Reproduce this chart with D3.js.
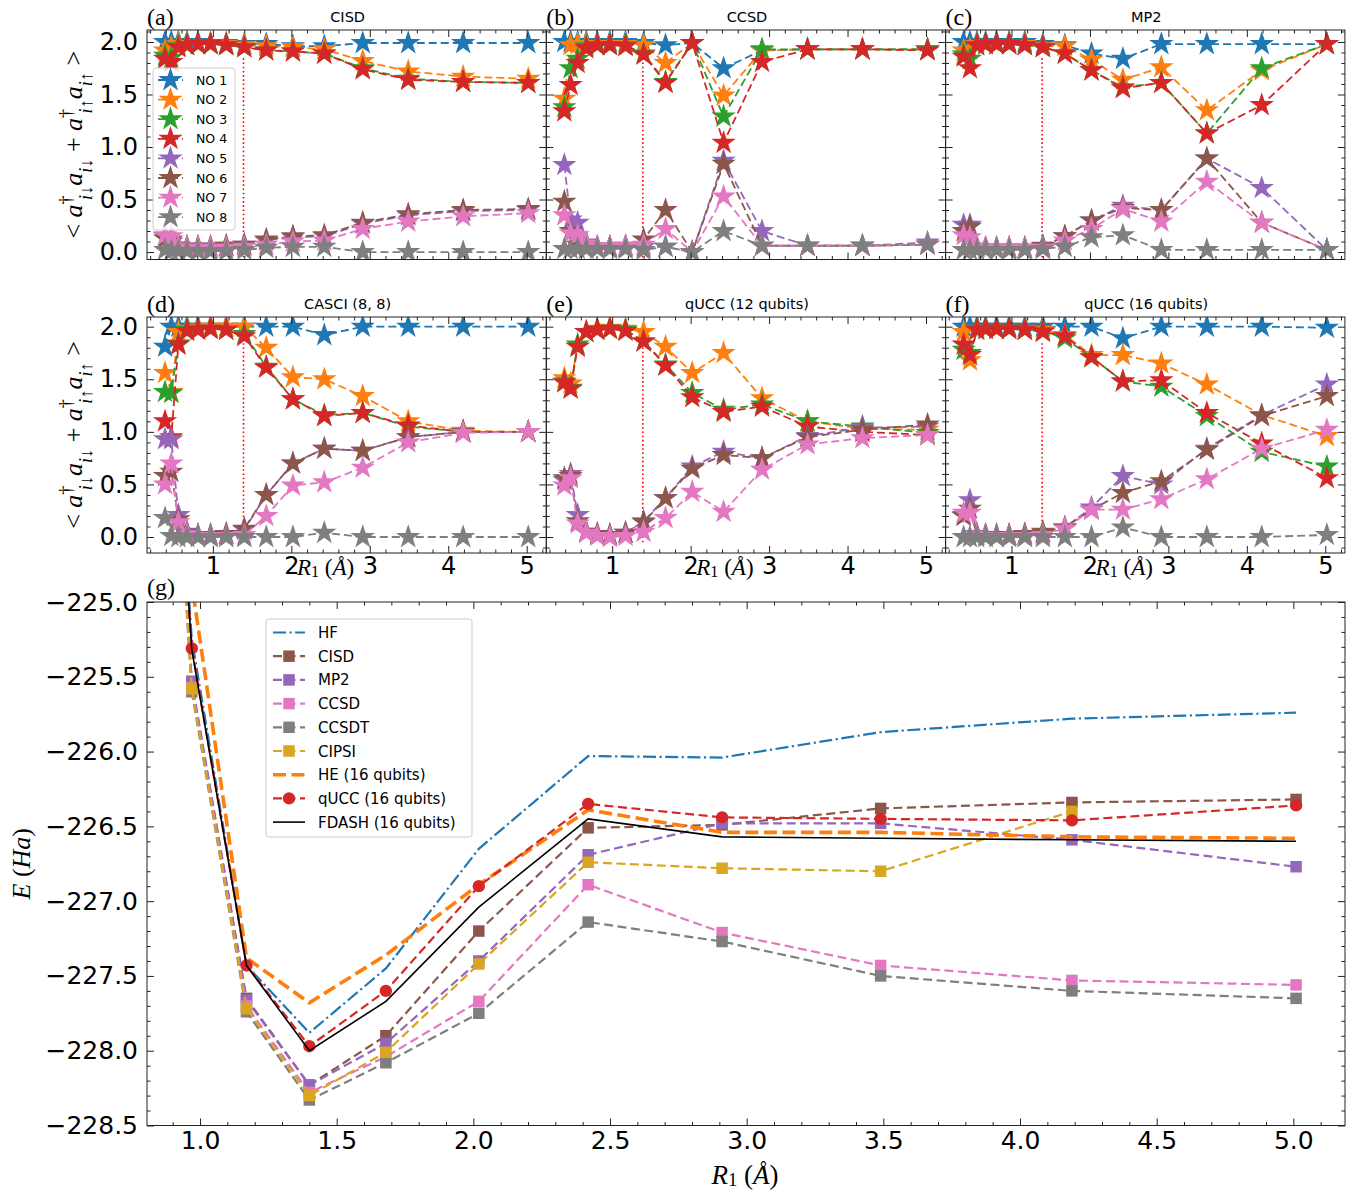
<!DOCTYPE html>
<html><head><meta charset="utf-8">
<script src="https://cdn.jsdelivr.net/npm/d3@7"></script>
<style>body{margin:0;background:#fff}</style>
</head><body><svg id="c" width="1366" height="1197" xmlns="http://www.w3.org/2000/svg"></svg>
<script>
// ---------- DATA ----------
const R_NO = [0.39,0.47,0.56,0.67,0.81,0.97,1.17,1.40,1.68,2.02,2.42,2.91,3.49,4.19,5.02];
const noNames = ["NO 1","NO 2","NO 3","NO 4","NO 5","NO 6","NO 7","NO 8"];
const noColors = ["#1f77b4","#ff7f0e","#2ca02c","#d62728","#9467bd","#8c564b","#e377c2","#7f7f7f"];
const panelTitles = ["CISD","CCSD","MP2","CASCI (8, 8)","qUCC (12 qubits)","qUCC (16 qubits)"];
const panelTags = ["(a)","(b)","(c)","(d)","(e)","(f)"];
const R_eq = 1.39;

const occCISD = [
 [2.00,2.00,2.00,2.00,2.00,1.99,1.99,1.98,1.98,1.96,1.96,1.99,1.99,1.99,1.99],
 [1.92,1.95,1.98,1.98,1.98,1.98,1.98,1.97,1.96,1.95,1.93,1.82,1.72,1.67,1.65],
 [1.87,1.85,1.96,1.97,1.98,1.98,1.97,1.95,1.92,1.91,1.89,1.75,1.65,1.62,1.61],
 [1.84,1.81,1.95,1.97,1.98,1.98,1.97,1.95,1.92,1.91,1.89,1.74,1.64,1.62,1.61],
 [0.15,0.12,0.06,0.05,0.05,0.05,0.06,0.07,0.11,0.14,0.15,0.27,0.35,0.39,0.40],
 [0.13,0.10,0.06,0.05,0.05,0.05,0.06,0.07,0.12,0.15,0.16,0.28,0.36,0.40,0.41],
 [0.16,0.15,0.05,0.04,0.04,0.04,0.04,0.05,0.07,0.10,0.11,0.22,0.29,0.34,0.37],
 [0.02,0.01,0.01,0.01,0.01,0.01,0.01,0.02,0.04,0.05,0.05,0.00,0.00,0.00,0.00]];
const occCCSD = [
 [2.00,2.00,2.00,2.00,2.00,2.00,2.00,1.99,1.97,1.99,1.75,1.92,1.93,1.93,1.93],
 [1.46,1.97,1.98,1.98,1.98,1.98,1.98,1.97,1.80,1.99,1.49,1.92,1.93,1.93,1.93],
 [1.38,1.75,1.84,1.96,1.97,1.97,1.97,1.89,1.62,1.99,1.29,1.93,1.93,1.93,1.93],
 [1.34,1.59,1.80,1.94,1.97,1.97,1.96,1.88,1.61,1.99,1.04,1.81,1.93,1.93,1.92],
 [0.83,0.31,0.28,0.09,0.05,0.05,0.05,0.05,0.05,0.00,0.87,0.20,0.06,0.06,0.09],
 [0.48,0.20,0.07,0.05,0.05,0.05,0.06,0.12,0.40,0.00,0.84,0.06,0.06,0.06,0.07],
 [0.35,0.18,0.16,0.08,0.05,0.05,0.06,0.07,0.22,0.00,0.53,0.06,0.06,0.06,0.07],
 [0.03,0.03,0.03,0.03,0.03,0.03,0.03,0.02,0.05,0.00,0.20,0.06,0.06,0.06,0.07]];
const occMP2 = [
 [2.00,2.00,2.00,2.00,2.00,2.00,2.00,1.98,1.97,1.89,1.84,1.98,1.98,1.98,1.98],
 [1.92,1.93,1.98,1.98,1.98,1.98,1.98,1.96,1.96,1.83,1.64,1.76,1.35,1.73,1.98],
 [1.88,1.84,1.97,1.98,1.98,1.98,1.97,1.95,1.89,1.73,1.57,1.61,1.13,1.75,1.98],
 [1.86,1.75,1.97,1.98,1.98,1.98,1.97,1.95,1.89,1.73,1.56,1.61,1.13,1.40,1.98],
 [0.26,0.26,0.05,0.04,0.04,0.04,0.04,0.05,0.15,0.30,0.44,0.40,0.89,0.61,0.02],
 [0.20,0.24,0.05,0.04,0.04,0.04,0.04,0.06,0.15,0.30,0.42,0.40,0.89,0.28,0.02],
 [0.16,0.14,0.05,0.04,0.04,0.04,0.04,0.04,0.11,0.22,0.41,0.29,0.67,0.28,0.02],
 [0.02,0.02,0.02,0.02,0.02,0.02,0.02,0.03,0.05,0.14,0.16,0.02,0.02,0.02,0.02]];
const occCASCI = [
 [1.81,2.00,2.00,2.00,2.00,2.00,2.00,2.00,2.00,2.00,1.92,2.00,2.00,2.00,2.00],
 [1.56,1.38,1.95,1.98,1.99,2.00,2.00,2.00,1.80,1.52,1.50,1.34,1.10,1.01,1.00],
 [1.38,1.37,1.84,1.97,1.98,1.98,1.97,1.93,1.62,1.31,1.16,1.18,1.05,1.00,1.00],
 [1.10,0.95,1.83,1.96,1.97,1.98,1.97,1.91,1.61,1.31,1.15,1.18,1.06,1.00,1.00],
 [0.93,0.93,0.21,0.05,0.02,0.02,0.03,0.07,0.40,0.70,0.84,0.82,0.95,1.00,1.00],
 [0.58,0.62,0.17,0.04,0.02,0.02,0.03,0.08,0.40,0.70,0.84,0.82,0.95,1.00,1.00],
 [0.50,0.70,0.14,0.03,0.01,0.01,0.01,0.02,0.20,0.49,0.52,0.66,0.90,0.99,1.00],
 [0.18,0.01,0.00,0.00,0.00,0.00,0.00,0.00,0.00,0.00,0.04,0.00,0.00,0.00,0.00]];
const occQUCC12 = [
 null,
 [1.51,1.46,1.81,1.95,1.98,1.99,1.98,1.95,1.81,1.56,1.75,1.32,1.10,1.03,1.02],
 [1.48,1.42,1.83,1.95,1.97,1.98,1.97,1.86,1.64,1.37,1.21,1.26,1.10,1.05,0.99],
 [1.47,1.41,1.81,1.95,1.97,1.98,1.96,1.86,1.63,1.33,1.19,1.24,1.05,1.00,0.97],
 [0.54,0.60,0.21,0.05,0.03,0.02,0.04,0.15,0.37,0.67,0.81,0.75,0.96,1.04,1.05],
 [0.56,0.58,0.15,0.05,0.03,0.02,0.04,0.14,0.37,0.65,0.78,0.75,0.95,1.02,1.07],
 [0.49,0.56,0.13,0.04,0.01,0.00,0.01,0.05,0.18,0.43,0.24,0.64,0.88,0.94,0.97],
 null];
const occQUCC16 = [
 [2.00,2.00,2.00,2.00,2.00,2.00,2.00,2.00,2.00,2.00,1.89,2.00,2.00,2.00,1.99],
 [1.95,1.68,1.98,1.98,1.98,1.98,1.98,1.97,1.92,1.73,1.73,1.65,1.45,1.16,0.96],
 [1.78,1.75,1.98,1.98,1.98,1.98,1.97,1.96,1.89,1.71,1.48,1.43,1.15,0.81,0.67],
 [1.83,1.73,1.97,1.98,1.98,1.98,1.97,1.95,1.91,1.71,1.48,1.49,1.18,0.89,0.56],
 [0.21,0.35,0.03,0.02,0.02,0.02,0.02,0.04,0.09,0.28,0.58,0.50,0.84,1.16,1.45],
 [0.20,0.27,0.02,0.02,0.02,0.02,0.03,0.05,0.09,0.26,0.42,0.53,0.83,1.15,1.34],
 [0.23,0.23,0.02,0.01,0.01,0.01,0.01,0.02,0.08,0.26,0.26,0.36,0.55,0.84,1.02],
 [0.00,0.00,0.00,0.00,0.00,0.00,0.00,0.00,0.00,0.00,0.09,0.00,0.00,0.00,0.02]];

const R_E   = [0.81,0.97,1.17,1.40,1.68,2.02,2.42,2.91,3.49,4.19,5.01];
const E_HF    = [-221.0,-225.25,-227.43,-227.88,-227.45,-226.65,-226.03,-226.04,-225.87,-225.78,-225.74];
const E_CISD  = [-221.0,-225.55,-227.65,-228.23,-227.90,-227.20,-226.51,-226.49,-226.38,-226.34,-226.32];
const E_MP2   = [-221.0,-225.53,-227.66,-228.23,-227.95,-227.40,-226.69,-226.48,-226.48,-226.59,-226.77];
const E_CCSD  = [-221.0,-225.57,-227.70,-228.28,-228.04,-227.67,-226.89,-227.21,-227.43,-227.53,-227.56];
const E_CCSDT = [-221.0,-225.60,-227.74,-228.33,-228.08,-227.75,-227.14,-227.27,-227.50,-227.60,-227.65];
const E_CIPSI = [-221.0,-225.58,-227.72,-228.30,-228.01,-227.42,-226.74,-226.78,-226.80,-226.40,null];
const E_HE    = [-221.0,-224.88,-227.38,-227.68,-227.36,-226.89,-226.39,-226.54,-226.54,-226.57,-226.58];
const E_QUCC  = [-221.0,-225.31,-227.43,-227.97,-227.60,-226.90,-226.35,-226.44,-226.45,-226.46,-226.36];
const E_FDASH = [-221.0,-225.32,-227.43,-228.00,-227.67,-227.04,-226.45,-226.57,-226.58,-226.59,-226.60];
const E_names = ["HF","CISD","MP2","CCSD","CCSDT","CIPSI","HE (16 qubits)","qUCC (16 qubits)","FDASH (16 qubits)"];
const yTicksE = [-228.5,-228.0,-227.5,-227.0,-226.5,-226.0,-225.5,-225.0];
const xTicksE = [1.0,1.5,2.0,2.5,3.0,3.5,4.0,4.5,5.0];

// ---------- DRAWING ----------
const svg = d3.select("#c");
svg.append("rect").attr("width",1366).attr("height",1197).attr("fill","#fff");
const SANS = "DejaVu Sans, sans-serif";
const SERIF = "Liberation Serif, DejaVu Serif, serif";
const fmt1 = d3.format(".1f");
let clipId = 0;

function ticksAll(g, x, y, w, h, xMaj, xMin, yMaj, yMin, showX, showY, fsz, xfmt, yfmt, xpad, ypad) {
  const col = "#222";
  const xd = x.domain(), yd = y.domain();
  const inX = v => v >= Math.min(...xd) && v <= Math.max(...xd);
  const inY = v => v >= Math.min(...yd) && v <= Math.max(...yd);
  xMaj = xMaj.filter(inX); xMin = xMin.filter(inX); yMaj = yMaj.filter(inY); yMin = yMin.filter(inY);
  const mk = (axis, tr) => {
    const a = g.append("g").attr("transform", tr).call(axis);
    a.select(".domain").remove();
    a.attr("color", col).attr("font-family", SANS).attr("font-size", fsz);
    a.selectAll("text").attr("fill", "#000");
    return a;
  };
  mk(d3.axisBottom(x).tickValues(xMaj).tickSize(-7).tickPadding(xpad).tickFormat(showX ? xfmt : ""), `translate(0,${h})`);
  mk(d3.axisBottom(x).tickValues(xMin).tickSize(-3.5).tickFormat(""), `translate(0,${h})`);
  mk(d3.axisTop(x).tickValues(xMaj).tickSize(-7).tickFormat(""), `translate(0,0)`);
  mk(d3.axisTop(x).tickValues(xMin).tickSize(-3.5).tickFormat(""), `translate(0,0)`);
  mk(d3.axisLeft(y).tickValues(yMaj).tickSize(-7).tickPadding(ypad).tickFormat(showY ? yfmt : ""), `translate(0,0)`);
  mk(d3.axisLeft(y).tickValues(yMin).tickSize(-3.5).tickFormat(""), `translate(0,0)`);
  mk(d3.axisRight(y).tickValues(yMaj).tickSize(-7).tickFormat(""), `translate(${w},0)`);
  mk(d3.axisRight(y).tickValues(yMin).tickSize(-3.5).tickFormat(""), `translate(${w},0)`);
}

function mathText(sel, parts) {
  parts.forEach(p => {
    const t = sel.append("tspan").text(p.t);
    if (p.it) t.attr("font-style", "italic");
    if (p.fs) t.attr("font-size", p.fs);
    if (p.bs) t.attr("baseline-shift", p.bs);
    if (p.dx) t.attr("dx", p.dx);
  });
}
const rLabel = [{ t: "R", it: true }, { t: "1", fs: "70%", bs: "-12%" }, { t: " (" }, { t: "Å", it: true }, { t: ")" }];

// top panels
const panelW = 399.3;
const colX = [147, 147 + panelW, 147 + 2 * panelW];
const rowsDef = [
  { top: 30, bottom: 259.5, dom: [-0.071, 2.114] },
  { top: 317, bottom: 553, dom: [-0.152, 2.092] }
];
const occData = [occCISD, occCCSD, occMP2, occCASCI, occQUCC12, occQUCC16];
const xMinTop = d3.range(1, 27).filter(i => i % 5 !== 0).map(i => i / 5);
const yMinTop = d3.range(-1, 22).filter(i => i % 5 !== 0).map(i => i / 10);
const star = d3.symbol().type(d3.symbolStar).size(185);

occData.forEach((data, pi) => {
  const r = Math.floor(pi / 3), c = pi % 3;
  const rd = rowsDef[r];
  const w = panelW, h = rd.bottom - rd.top;
  const g = svg.append("g").attr("transform", `translate(${colX[c]},${rd.top})`);
  const x = d3.scaleLinear().domain([0.16, 5.25]).range([0, w]);
  const y = d3.scaleLinear().domain(rd.dom).range([h, 0]);
  const cid = "clip" + (clipId++);
  g.append("clipPath").attr("id", cid).append("rect").attr("width", w).attr("height", h);
  const plot = g.append("g").attr("clip-path", `url(#${cid})`);
  plot.append("line").attr("x1", x(R_eq)).attr("x2", x(R_eq)).attr("y1", y(-0.05)).attr("y2", y(1.85))
    .attr("stroke", "#ff0000").attr("stroke-width", 1.6).attr("stroke-dasharray", "1.6,2.6");
  const line = d3.line().x((d, i) => x(R_NO[i])).y(d => y(d));
  data.forEach((ser, k) => {
    if (!ser) return;
    plot.append("path").attr("d", line(ser)).attr("fill", "none").attr("stroke", noColors[k])
      .attr("stroke-width", 1.8).attr("stroke-dasharray", "8,4");
    plot.selectAll(null).data(ser).enter().append("path").attr("d", star)
      .attr("transform", (d, i) => `translate(${x(R_NO[i])},${y(d)})`).attr("fill", noColors[k]);
  });
  ticksAll(g, x, y, w, h, [1, 2, 3, 4, 5], xMinTop, [0, 0.5, 1, 1.5, 2], yMinTop, r === 1, c === 0, 24, d3.format("d"), fmt1, 4, 9);
  g.append("rect").attr("width", w).attr("height", h).attr("fill", "none").attr("stroke", "#222").attr("stroke-width", 1);
  g.append("text").attr("x", w / 2 + 1).attr("y", -8).attr("text-anchor", "middle").attr("font-family", SANS)
    .attr("font-size", 14.5).text(panelTitles[pi]);
  g.append("text").attr("x", 0).attr("y", -5).attr("font-family", SERIF).attr("font-size", 24).text(panelTags[pi]);
  if (r === 1) {
    const t = g.append("text").attr("x", 150).attr("y", h + 22).attr("font-family", SERIF).attr("font-size", 23);
    mathText(t, rLabel);
  }
  if (c === 0) {
    const cy = (rd.top + rd.bottom) / 2;
    const t = svg.append("text").attr("transform", `translate(82,${cy}) rotate(-90)`).attr("text-anchor", "middle")
      .attr("font-family", SERIF).attr("font-size", 26);
    mathText(t, [
      { t: "< " }, { t: "a", it: true }, { t: "†", fs: "70%", bs: "super" }, { t: "i↓", it: true, fs: "70%", bs: "sub", dx: "-0.25em" },
      { t: "a", it: true }, { t: "i↓", it: true, fs: "70%", bs: "sub" }, { t: " + " },
      { t: "a", it: true }, { t: "†", fs: "70%", bs: "super" }, { t: "i↑", it: true, fs: "70%", bs: "sub", dx: "-0.25em" },
      { t: "a", it: true }, { t: "i↑", it: true, fs: "70%", bs: "sub" }, { t: " >" }]);
  }
  if (pi === 0) {
    const lg = g.append("g").attr("transform", "translate(6,38)");
    lg.append("rect").attr("width", 82).attr("height", 162).attr("rx", 3).attr("fill", "#fff").attr("fill-opacity", 0.8)
      .attr("stroke", "#cccccc");
    noNames.forEach((nm, k) => {
      const yy = 12 + k * 19.6;
      lg.append("line").attr("x1", 5).attr("x2", 30).attr("y1", yy).attr("y2", yy).attr("stroke", noColors[k])
        .attr("stroke-width", 1.8).attr("stroke-dasharray", "8,4");
      lg.append("path").attr("d", star).attr("transform", `translate(17.5,${yy})`).attr("fill", noColors[k]);
      lg.append("text").attr("x", 43).attr("y", yy + 4.5).attr("font-family", SANS).attr("font-size", 12.5).text(nm);
    });
  }
});

// bottom panel (g)
{
  const L = 147, T = 602, W = 1345 - 147, H = 1125.5 - 602;
  const g = svg.append("g").attr("transform", `translate(${L},${T})`);
  const x = d3.scaleLinear().domain([0.806, 5.189]).range([0, W]);
  const y = d3.scaleLinear().domain([-228.5, -225.0]).range([H, 0]);
  g.append("clipPath").attr("id", "clipg").append("rect").attr("width", W).attr("height", H);
  const plot = g.append("g").attr("clip-path", "url(#clipg)");
  const series = [
    { v: E_HF, c: "#1f77b4", w: 2.2, dash: "13,3.5,2.2,3.5", m: null },
    { v: E_CISD, c: "#8c564b", w: 2.2, dash: "9,4.5", m: "sq" },
    { v: E_MP2, c: "#9467bd", w: 2.2, dash: "9,4.5", m: "sq" },
    { v: E_CCSD, c: "#e377c2", w: 2.2, dash: "9,4.5", m: "sq" },
    { v: E_CCSDT, c: "#7f7f7f", w: 2.2, dash: "9,4.5", m: "sq" },
    { v: E_CIPSI, c: "#daa520", w: 2.2, dash: "9,4.5", m: "sq" },
    { v: E_HE, c: "#ff7f0e", w: 3.6, dash: "13,5.5", m: null },
    { v: E_QUCC, c: "#d62728", w: 2.2, dash: "9,4.5", m: "ci" },
    { v: E_FDASH, c: "#000000", w: 1.6, dash: null, m: null }
  ];
  const sq = d3.symbol().type(d3.symbolSquare).size(132);
  const ci = d3.symbol().type(d3.symbolCircle).size(120);
  series.forEach(s => {
    const pts = s.v.map((v, i) => [R_E[i], v]).filter(p => p[1] !== null);
    const ln = d3.line().x(p => x(p[0])).y(p => y(p[1]));
    const p = plot.append("path").attr("d", ln(pts)).attr("fill", "none").attr("stroke", s.c).attr("stroke-width", s.w);
    if (s.dash) p.attr("stroke-dasharray", s.dash);
    if (s.m) {
      plot.selectAll(null).data(pts).enter().append("path").attr("d", s.m === "sq" ? sq : ci)
        .attr("transform", d => `translate(${x(d[0])},${y(d[1])})`).attr("fill", s.c);
    }
  });
  const xMin = d3.range(9, 52).filter(i => i % 5 !== 0).map(i => i / 10);
  const yMin = d3.range(-2285, -2249).filter(i => i % 5 !== 0).map(i => i / 10);
  ticksAll(g, x, y, W, H, xTicksE, xMin, yTicksE, yMin, true, true, 25, fmt1, fmt1, 6, 9);
  g.append("rect").attr("width", W).attr("height", H).attr("fill", "none").attr("stroke", "#222").attr("stroke-width", 1);
  g.append("text").attr("x", 0).attr("y", -7).attr("font-family", SERIF).attr("font-size", 24).text("(g)");
  const lg = g.append("g").attr("transform", "translate(119,17)");
  lg.append("rect").attr("width", 206).attr("height", 218).attr("rx", 3).attr("fill", "#fff").attr("fill-opacity", 0.8)
    .attr("stroke", "#cccccc");
  series.forEach((s, k) => {
    const yy = 13.5 + k * 23.7;
    const l = lg.append("line").attr("x1", 7).attr("x2", 39).attr("y1", yy).attr("y2", yy).attr("stroke", s.c).attr("stroke-width", s.w);
    if (s.dash) l.attr("stroke-dasharray", s.dash);
    if (s.m) lg.append("path").attr("d", s.m === "sq" ? sq : ci).attr("transform", `translate(23,${yy})`).attr("fill", s.c);
    lg.append("text").attr("x", 52).attr("y", yy + 5.5).attr("font-family", SANS).attr("font-size", 15).text(E_names[k]);
  });
  const xl = svg.append("text").attr("x", 745).attr("y", 1184).attr("text-anchor", "middle").attr("font-family", SERIF).attr("font-size", 27);
  mathText(xl, rLabel);
  const yl = svg.append("text").attr("transform", `translate(30,${T + H / 2}) rotate(-90)`).attr("text-anchor", "middle")
    .attr("font-family", SERIF).attr("font-size", 26);
  mathText(yl, [{ t: "E", it: true }, { t: " (" }, { t: "Ha", it: true }, { t: ")" }]);
}
</script></body></html>
